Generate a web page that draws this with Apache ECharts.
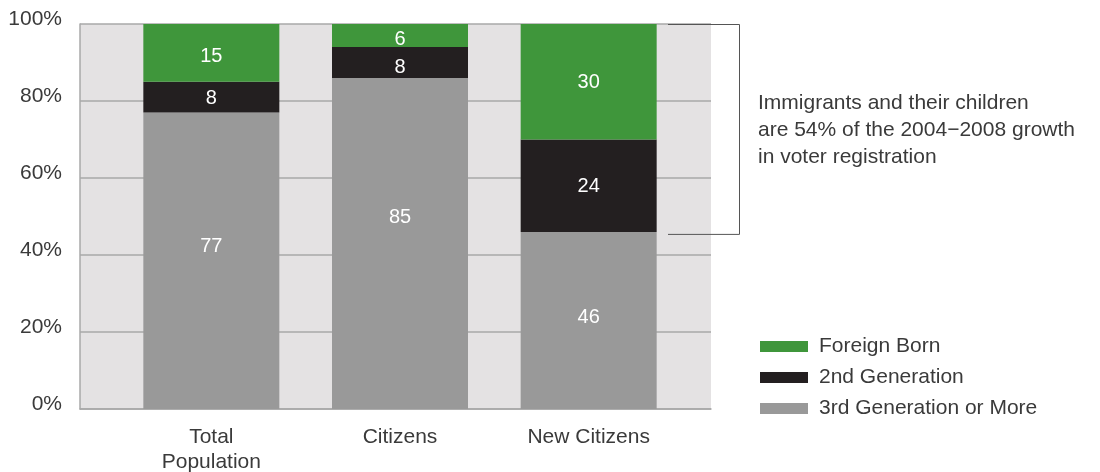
<!DOCTYPE html>
<html>
<head>
<meta charset="utf-8">
<script src="https://cdn.jsdelivr.net/npm/echarts@6/dist/echarts.min.js"></script>
<style>html,body{margin:0;padding:0;background:#fff}#c{width:1100px;height:472px}</style>
</head>
<body>
<div id="c"></div>
<script>
const categories = ['Total\nPopulation', 'Citizens', 'New Citizens'];
const thirdGen = [77, 86, 46];
const thirdGenLabels = [77, 85, 46];
const secondGen = [8, 8, 24];
const foreignBorn = [15, 6, 30];
const yTicks = [0, 20, 40, 60, 80, 100];
const seriesNames = ['Foreign Born', '2nd Generation', '3rd Generation or More'];
const noteLines = ['Immigrants and their children', 'are 54% of the 2004\u22122008 growth', 'in voter registration'];

// label placement tweaks (pixels), kept apart from the data
const thirdGenLabelDy = [-14, -26, -3];
const secondGenLabelDy = [1, 5, 1];
const foreignBornLabelDy = [4, 4, 1];

const FONT = 'Liberation Sans';
const TXT = '#3a3a3a';
const FS = 21;
const chart = echarts.init(document.getElementById('c'));

const items = (vals, dys) => vals.map((v, i) => ({ value: v, label: { offset: [0, dys[i]] } }));
const labelStyle = (fmt) => ({
  show: true, position: 'inside', color: '#fff', fontSize: 20, fontFamily: FONT,
  formatter: fmt
});

chart.setOption({
  animation: false,
  textStyle: { fontFamily: FONT },
  grid: [
    { left: 80, right: 389, top: 24, bottom: 63, show: true, backgroundColor: '#e4e2e3', borderWidth: 0,
      containLabel: false, outerBoundsMode: 'none' },
    { left: 117, right: 417, top: 24, bottom: 63, containLabel: false, outerBoundsMode: 'none' }
  ],
  xAxis: [
    { gridIndex: 0, type: 'value', min: 0, max: 1, axisLabel: { show: false }, axisTick: { show: false },
      splitLine: { show: false }, axisLine: { show: true, lineStyle: { color: '#a8a8a8', width: 1.5 } } },
    { gridIndex: 1, type: 'category', data: categories,
      axisLine: { show: false }, axisTick: { show: false },
      axisLabel: { color: TXT, fontSize: FS, fontFamily: FONT, margin: 16, lineHeight: 25 } }
  ],
  yAxis: [
    { gridIndex: 0, type: 'value', min: yTicks[0], max: yTicks[yTicks.length - 1], interval: yTicks[1] - yTicks[0],
      axisLabel: { formatter: '{value}%', color: TXT, fontSize: FS, fontFamily: FONT, margin: 18,
        verticalAlign: 'bottom', lineHeight: 10 },
      axisTick: { show: false },
      axisLine: { show: true, lineStyle: { color: '#a8a8a8', width: 1.5 } },
      splitLine: { show: true, lineStyle: { color: '#a8a8a8', width: 1.5 } } },
    { gridIndex: 1, type: 'value', min: 0, max: 100, show: false }
  ],
  legend: {
    orient: 'vertical', left: 760, top: 336, padding: 0,
    data: seriesNames,
    itemWidth: 48, itemHeight: 11, itemGap: 10,
    icon: 'rect',
    textStyle: { color: TXT, fontSize: FS, fontFamily: FONT, lineHeight: 20, padding: [0, 0, 0, 6] }
  },
  series: [
    { name: seriesNames[2], type: 'bar', stack: 's', xAxisIndex: 1, yAxisIndex: 1,
      data: items(thirdGen, thirdGenLabelDy),
      barWidth: 136, itemStyle: { color: '#999999' },
      label: labelStyle(p => thirdGenLabels[p.dataIndex]) },
    { name: seriesNames[1], type: 'bar', stack: 's', xAxisIndex: 1, yAxisIndex: 1,
      data: items(secondGen, secondGenLabelDy),
      barWidth: 136, itemStyle: { color: '#231f20' },
      label: labelStyle('{c}') },
    { name: seriesNames[0], type: 'bar', stack: 's', xAxisIndex: 1, yAxisIndex: 1,
      data: items(foreignBorn, foreignBornLabelDy),
      barWidth: 136, itemStyle: { color: '#3f963b' },
      label: labelStyle('{c}') }
  ]
});

// bracket spanning the immigrant share of "New Citizens"
const yTop = chart.convertToPixel({ gridIndex: 1 }, [0, 100])[1];
const yBot = chart.convertToPixel({ gridIndex: 1 }, [0, thirdGen[2]])[1] + 2;
const bx0 = 668, bx1 = 739.5;
chart.setOption({
  graphic: [
    { type: 'polyline', shape: { points: [[bx0, yTop + 0.5], [bx1, yTop + 0.5], [bx1, yBot + 0.5], [bx0, yBot + 0.5]] },
      style: { stroke: '#555', lineWidth: 1, fill: null }, z: 10 },
    { type: 'text', left: 758, top: 90,
      style: { text: noteLines.join('\n'), fill: TXT, fontSize: FS, fontFamily: FONT, lineHeight: 27 } }
  ]
});
</script>
</body>
</html>
